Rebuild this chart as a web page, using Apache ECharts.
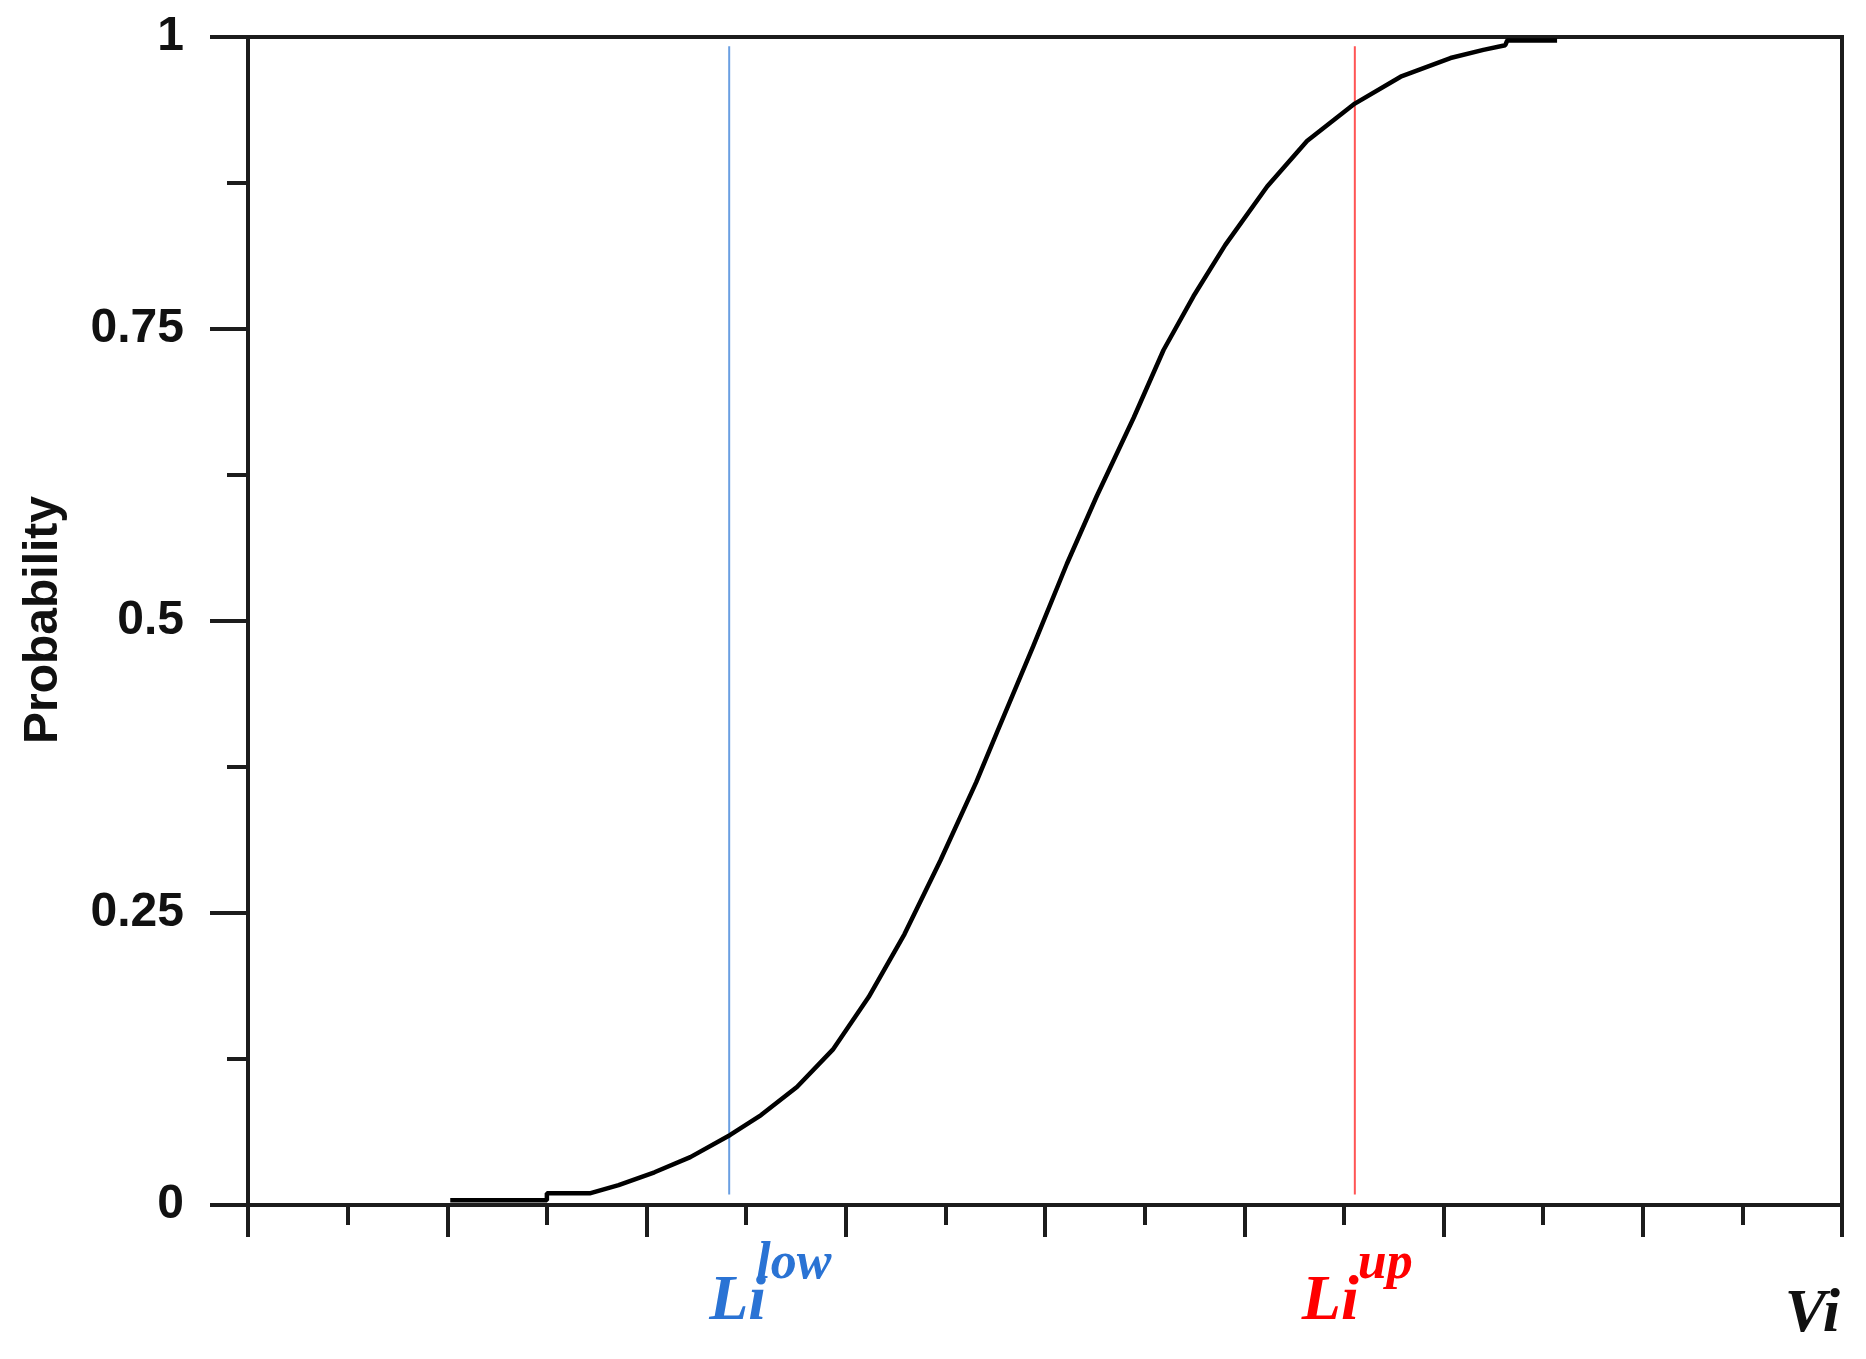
<!DOCTYPE html>
<html>
<head>
<meta charset="utf-8">
<script src="https://cdn.jsdelivr.net/npm/echarts@6/dist/echarts.min.js"></script>
<style>
html,body{margin:0;padding:0;background:#fff;}
#chart{width:1866px;height:1359px;}
</style>
</head>
<body>
<div id="chart"></div>
<script>
// Curve: cumulative probability vs Vi (x in axis tick units)
const vi   = [2.03, 3.00, 3.00, 3.43, 3.72, 4.08, 4.44, 4.84, 5.15, 5.51, 5.87, 6.23, 6.59, 6.95, 7.31, 7.52, 7.88, 8.22, 8.52, 8.89, 9.19, 9.49, 9.81, 10.23, 10.63, 11.11, 11.57, 12.07, 12.40, 12.62, 12.64, 13.14];
const prob = [0.004, 0.004, 0.010, 0.010, 0.017, 0.028, 0.041, 0.060, 0.077, 0.101, 0.133, 0.178, 0.232, 0.295, 0.362, 0.405, 0.478, 0.549, 0.607, 0.674, 0.732, 0.778, 0.822, 0.872, 0.911, 0.943, 0.966, 0.982, 0.989, 0.993, 0.997, 0.997];

// Threshold lines
const liLow = 4.83;
const liUp = 11.11;
const lineSpan = [0.009, 0.992];

// Axes
const xRange = [0, 16];
const yRange = [0, 1];
const yTicks = [0, 0.25, 0.5, 0.75, 1];
const yLabels = ['0', '0.25', '0.5', '0.75', '1'];

const chart = echarts.init(document.getElementById('chart'), null, {renderer: 'canvas'});

const axisColor = '#1c1c1c';

const option = {
  animation: false,
  backgroundColor: '#ffffff',
  grid: {
    left: 248, right: 24, top: 37, bottom: 154,
    show: true, borderColor: axisColor, borderWidth: 4, backgroundColor: 'transparent'
  },
  xAxis: {
    type: 'value', min: xRange[0], max: xRange[1], interval: 2,
    axisLine: {show: true, lineStyle: {color: axisColor, width: 4}},
    axisTick: {show: true, length: 32, lineStyle: {color: axisColor, width: 4}},
    minorTick: {show: true, splitNumber: 2, length: 20, lineStyle: {color: axisColor, width: 4}},
    axisLabel: {show: false},
    splitLine: {show: false}
  },
  yAxis: {
    type: 'value', min: yRange[0], max: yRange[1], interval: 0.25,
    axisLine: {show: true, lineStyle: {color: axisColor, width: 4}},
    axisTick: {show: true, length: 38, lineStyle: {color: axisColor, width: 4}},
    minorTick: {show: true, splitNumber: 2, length: 21, lineStyle: {color: axisColor, width: 4}},
    axisLabel: {
      show: true, margin: 64, color: '#111',
      fontFamily: 'Liberation Sans', fontSize: 48, fontWeight: 'bold',
      formatter: function (v) {
        const i = yTicks.indexOf(v);
        return i >= 0 ? yLabels[i] : '';
      }
    },
    splitLine: {show: false}
  },
  series: [
    {
      type: 'line', name: 'low', showSymbol: false, silent: true,
      data: [[liLow, lineSpan[0]], [liLow, lineSpan[1]]],
      lineStyle: {color: '#6a9fe2', width: 2}, z: 2
    },
    {
      type: 'line', name: 'up', showSymbol: false, silent: true,
      data: [[liUp, lineSpan[0]], [liUp, lineSpan[1]]],
      lineStyle: {color: '#ff5555', width: 2}, z: 2
    },
    {
      type: 'line', name: 'cdf', showSymbol: false, silent: true,
      data: vi.map((v, i) => [v, prob[i]]),
      lineStyle: {color: '#000', width: 4.5}, z: 3
    }
  ]
};
chart.setOption(option);

const bottomY = chart.convertToPixel({gridIndex: 0}, [0, 0])[1];
const xLow = chart.convertToPixel({gridIndex: 0}, [liLow, 0])[0];
const xUp = chart.convertToPixel({gridIndex: 0}, [liUp, 0])[0];
const xEnd = chart.convertToPixel({gridIndex: 0}, [xRange[1], 0])[0];
const yMid = chart.convertToPixel({gridIndex: 0}, [0, 0.5])[1];

const serif = 'Liberation Serif';
function txt(text, x, y, size, color, align) {
  return {
    type: 'text', x: x, y: y, silent: true,
    style: {text: text, fill: color, font: 'italic bold ' + size + 'px "' + serif + '"',
            align: align || 'left', verticalAlign: 'middle'}
  };
}
const blue = '#2a73d4';
const red = '#ff0000';
chart.setOption({
  graphic: [
    txt('Li', xLow - 20, bottomY + 97, 64, blue),
    txt('low', xLow + 27, bottomY + 60, 52, blue),
    txt('Li', xUp - 53, bottomY + 97, 64, red),
    txt('up', xUp + 3, bottomY + 60, 52, red),
    txt('Vi', xEnd - 2, bottomY + 110, 62, '#111', 'right'),
    {
      type: 'text', x: 44, y: yMid - 1, rotation: Math.PI / 2, silent: true,
      style: {text: 'Probability', fill: '#111', font: 'bold 48px "Liberation Sans"',
              align: 'center', verticalAlign: 'middle'}
    }
  ]
});
</script>
</body>
</html>
